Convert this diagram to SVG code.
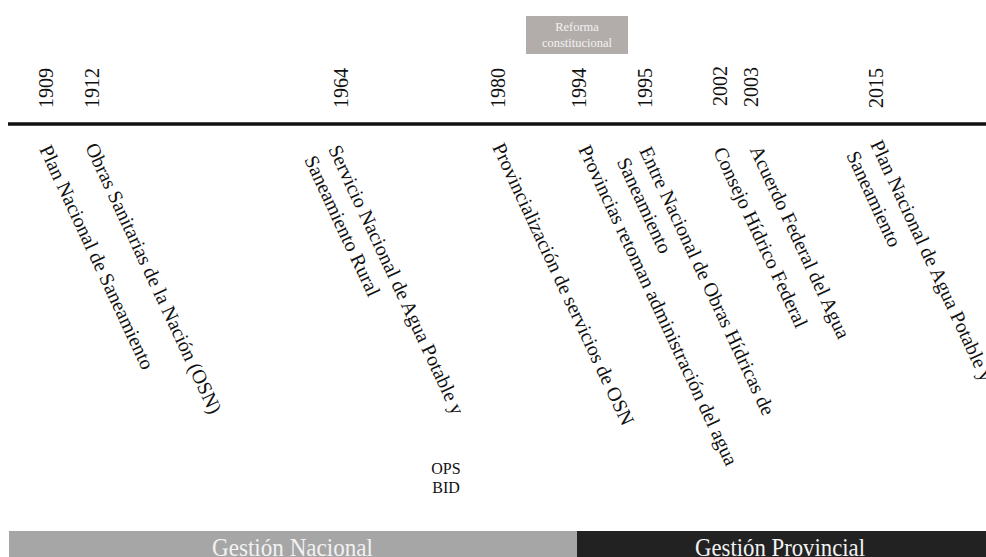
<svg xmlns="http://www.w3.org/2000/svg" width="986" height="557" viewBox="0 0 986 557">
<style>
  text { font-family: "Liberation Serif", "Times New Roman", serif; fill: #111; }
  .yr { font-size: 20px; }
  .ev { font-size: 20px; }
  .small { font-size: 16px; }
  .box { font-size: 12.5px; fill: #f4f2f1; }
  .band { font-size: 25px; fill: #f2f2f2; }
</style>
<rect x="0" y="0" width="986" height="557" fill="#ffffff"/>

<g id="timeline-axis">
  <line x1="8" y1="124" x2="986" y2="124" stroke="#111" stroke-width="3.5"/>
</g>

<g id="years">
  <text class="yr" transform="translate(53,108) rotate(-90)">1909</text>
  <text class="yr" transform="translate(99,108) rotate(-90)">1912</text>
  <text class="yr" transform="translate(348,108) rotate(-90)">1964</text>
  <text class="yr" transform="translate(505,108) rotate(-90)">1980</text>
  <text class="yr" transform="translate(586,108) rotate(-90)">1994</text>
  <text class="yr" transform="translate(652,108) rotate(-90)">1995</text>
  <text class="yr" transform="translate(727,106) rotate(-90)">2002</text>
  <text class="yr" transform="translate(758,107) rotate(-90)">2003</text>
  <text class="yr" transform="translate(882.5,108) rotate(-90)">2015</text>
</g>

<g id="reforma">
  <rect x="526" y="16" width="102" height="38" fill="#b2adab"/>
  <text class="box" x="577" y="31" text-anchor="middle">Reforma</text>
  <text class="box" x="577" y="47" text-anchor="middle">constitucional</text>
</g>

<g id="e1909">
  <text class="ev" transform="translate(39,149) rotate(65)">Plan Nacional de Saneamiento</text>
</g>
<g id="e1912">
  <text class="ev" transform="translate(85,147) rotate(65)">Obras Sanitarias de la Nación (OSN)</text>
</g>
<g id="e1964">
  <text class="ev" transform="translate(328,149) rotate(65)">Servicio Nacional de Agua Potable y</text>
  <text class="ev" transform="translate(304,159.5) rotate(65)">Saneamiento Rural</text>
</g>
<g id="e1980">
  <text class="ev" transform="translate(492,147) rotate(65)">Provincialización de servicios de OSN</text>
</g>
<g id="e1994">
  <text class="ev" transform="translate(578,149) rotate(65)">Provincias retoman administración del agua</text>
</g>
<g id="e1995">
  <text class="ev" transform="translate(639,150.5) rotate(65)">Entre Nacional de Obras Hídricas de</text>
  <text class="ev" transform="translate(616.5,161.5) rotate(65)">Saneamiento</text>
</g>
<g id="e2002">
  <text class="ev" transform="translate(713,151) rotate(65)">Consejo Hídrico Federal</text>
</g>
<g id="e2003">
  <text class="ev" transform="translate(749.5,149.5) rotate(65)">Acuerdo Federal del Agua</text>
</g>
<g id="e2015">
  <text class="ev" transform="translate(870,144) rotate(65)">Plan Nacional de Agua Potable y</text>
  <text class="ev" transform="translate(846,155) rotate(65)">Saneamiento</text>
</g>

<g id="ops-bid">
  <text class="small" x="446" y="473.5" text-anchor="middle">OPS</text>
  <text class="small" x="446" y="492.5" text-anchor="middle">BID</text>
</g>

<g id="gestion-nacional">
  <rect x="9" y="531" width="568" height="26" fill="#a6a6a6"/>
  <text class="band" x="292.5" y="556" text-anchor="middle" textLength="161" lengthAdjust="spacingAndGlyphs">Gestión Nacional</text>
</g>
<g id="gestion-provincial">
  <rect x="577" y="531" width="409" height="26" fill="#222222"/>
  <text class="band" x="780" y="556" text-anchor="middle" textLength="170" lengthAdjust="spacingAndGlyphs">Gestión Provincial</text>
</g>
</svg>
